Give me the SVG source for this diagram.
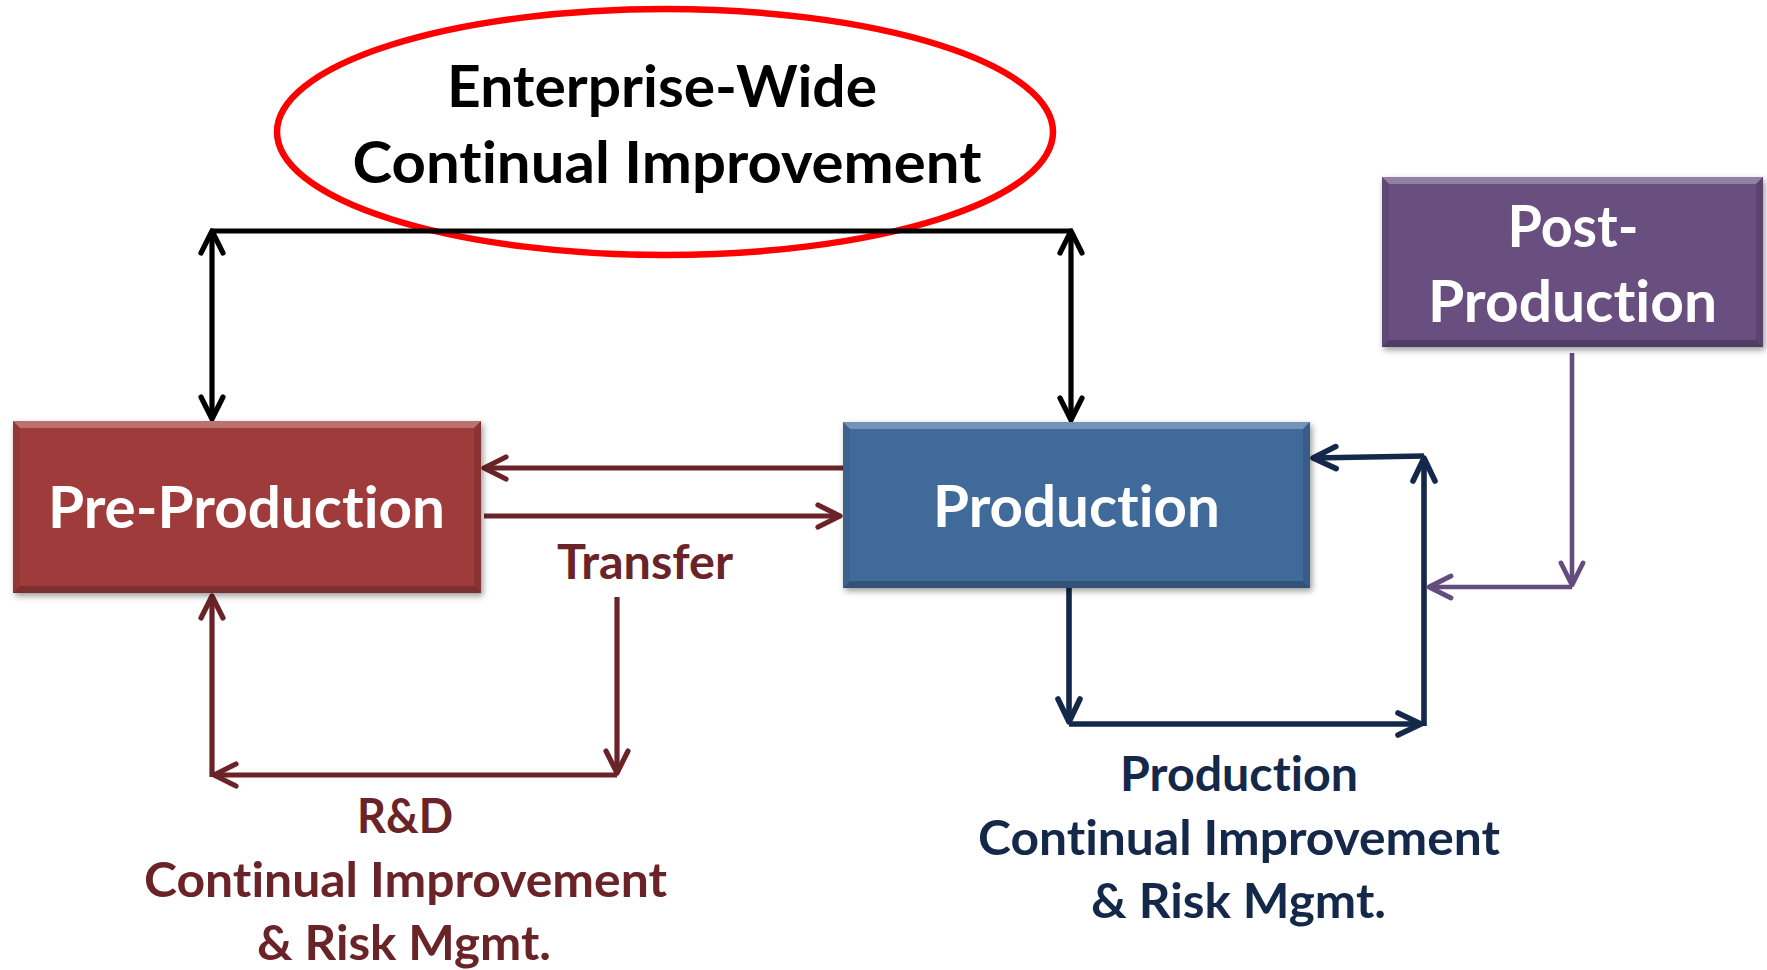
<svg xmlns="http://www.w3.org/2000/svg" width="1767" height="970" viewBox="0 0 1767 970">
<style>
text{font-family:Lato,"Open Sans","Liberation Sans",sans-serif;font-weight:700;text-anchor:middle;font-variant-ligatures:none;font-feature-settings:"liga" 0,"clig" 0}
.big{font-size:58px}
.lbl{font-size:47px}
.w{fill:#ffffff}
.k{fill:#000000}
.rd{fill:#6A2326}
.nv{fill:#14284A}
.ln{fill:none;stroke-width:5.2;stroke-linecap:butt}
.bk{stroke:#000000}
.dr{stroke:#6A2326}
.nb{stroke:#14284A;stroke-width:5.6}
.pu{stroke:#654C7E;stroke-width:4.6}
.hi{fill:#ffffff;fill-opacity:.28}
.lo{fill:#000000;fill-opacity:.22}
.sd{fill:#000000;fill-opacity:.08}
.sd2{fill:#000000;fill-opacity:.13}
</style>
<defs>
<filter id="sh" x="-10%" y="-10%" width="125%" height="130%">
<feDropShadow dx="2" dy="3" stdDeviation="3" flood-color="#000" flood-opacity="0.4"/>
</filter>
<marker id="mk" markerUnits="userSpaceOnUse" markerWidth="40" markerHeight="40" refX="0" refY="0" viewBox="-30 -20 40 40" orient="auto-start-reverse" overflow="visible">
<path d="M-22,-11 L0,0 L-22,11" fill="none" stroke="#000000" stroke-width="5.2" stroke-linecap="round" stroke-linejoin="round"/>
</marker>
<marker id="mr" markerUnits="userSpaceOnUse" markerWidth="40" markerHeight="40" refX="0" refY="0" viewBox="-30 -20 40 40" orient="auto-start-reverse" overflow="visible">
<path d="M-22,-11 L0,0 L-22,11" fill="none" stroke="#6A2326" stroke-width="5.2" stroke-linecap="round" stroke-linejoin="round"/>
</marker>
<marker id="mn" markerUnits="userSpaceOnUse" markerWidth="40" markerHeight="40" refX="0" refY="0" viewBox="-30 -20 40 40" orient="auto-start-reverse" overflow="visible">
<path d="M-23,-11 L0,0 L-23,11" fill="none" stroke="#14284A" stroke-width="5.6" stroke-linecap="round" stroke-linejoin="round"/>
</marker>
<marker id="mp" markerUnits="userSpaceOnUse" markerWidth="40" markerHeight="40" refX="0" refY="0" viewBox="-30 -20 40 40" orient="auto-start-reverse" overflow="visible">
<path d="M-22,-11 L0,0 L-22,11" fill="none" stroke="#654C7E" stroke-width="4.8" stroke-linecap="round" stroke-linejoin="round"/>
</marker>
</defs>
<rect x="0" y="0" width="1767" height="970" fill="#ffffff"/>

<g id="enterprise">
<ellipse cx="665" cy="132" rx="388" ry="123" fill="none" stroke="#FF0000" stroke-width="6.5"/>
<text class="big k" x="662" y="107" textLength="430" lengthAdjust="spacingAndGlyphs">Enterprise-Wide</text>
<text class="big k" x="667" y="183" textLength="629" lengthAdjust="spacingAndGlyphs">Continual Improvement</text>
</g>

<g id="connectors">
<line class="ln bk" x1="210" y1="231" x2="1073" y2="231"/>
<line class="ln bk" x1="212" y1="231" x2="212" y2="419" marker-start="url(#mk)" marker-end="url(#mk)"/>
<line class="ln bk" x1="1071" y1="231" x2="1071" y2="420" marker-start="url(#mk)" marker-end="url(#mk)"/>
<line class="ln dr" x1="843" y1="468" x2="484" y2="468" marker-end="url(#mr)"/>
<line class="ln dr" x1="484" y1="516" x2="840" y2="516" marker-end="url(#mr)"/>
<line class="ln dr" x1="617" y1="597" x2="617" y2="773" marker-end="url(#mr)"/>
<line class="ln dr" x1="617" y1="775" x2="214" y2="775" marker-end="url(#mr)"/>
<line class="ln dr" x1="212" y1="777" x2="212" y2="596" marker-end="url(#mr)"/>
<line class="ln nb" x1="1069" y1="588" x2="1069" y2="722" marker-end="url(#mn)"/>
<line class="ln nb" x1="1069" y1="724" x2="1421" y2="724" marker-end="url(#mn)"/>
<line class="ln nb" x1="1424" y1="726" x2="1424" y2="458" marker-end="url(#mn)"/>
<line class="ln nb" x1="1424" y1="456" x2="1313" y2="458" marker-end="url(#mn)"/>
<line class="ln pu" x1="1572" y1="353" x2="1572" y2="585" marker-end="url(#mp)"/>
<line class="ln pu" x1="1572" y1="587" x2="1429" y2="587" marker-end="url(#mp)"/>
</g>

<g id="pre-production">
<rect x="13" y="421" width="468" height="172" fill="#A03B3A" filter="url(#sh)"/>
<polygon class="hi" points="13,421 481,421 474,428 20,428"/>
<polygon class="lo" points="13,593 481,593 474,586 20,586"/>
<polygon class="sd" points="13,421 20,428 20,586 13,593"/>
<polygon class="sd2" points="481,421 474,428 474,586 481,593"/>
<text class="big w" x="246.5" y="528" textLength="397" lengthAdjust="spacingAndGlyphs">Pre-Production</text>
</g>

<g id="production">
<rect x="843" y="422" width="467" height="166" fill="#3F6A9A" filter="url(#sh)"/>
<polygon class="hi" points="843,422 1310,422 1303,429 850,429"/>
<polygon class="lo" points="843,588 1310,588 1303,581 850,581"/>
<polygon class="sd" points="843,422 850,429 850,581 843,588"/>
<polygon class="sd2" points="1310,422 1303,429 1303,581 1310,588"/>
<text class="big w" x="1076.5" y="527" textLength="287" lengthAdjust="spacingAndGlyphs">Production</text>
</g>

<g id="post-production">
<rect x="1382" y="177" width="381" height="170" fill="#67507F" filter="url(#sh)"/>
<polygon class="hi" points="1382,177 1763,177 1756,184 1389,184"/>
<polygon class="lo" points="1382,347 1763,347 1756,340 1389,340"/>
<polygon class="sd" points="1382,177 1389,184 1389,340 1382,347"/>
<polygon class="sd2" points="1763,177 1756,184 1756,340 1763,347"/>
<text class="big w" x="1573" y="247" textLength="131" lengthAdjust="spacingAndGlyphs">Post-</text>
<text class="big w" x="1572.5" y="322" textLength="289" lengthAdjust="spacingAndGlyphs">Production</text>
</g>

<g id="transfer-label">
<text class="lbl rd" x="645" y="579" textLength="176" lengthAdjust="spacingAndGlyphs">Transfer</text>
</g>

<g id="rd-label">
<text class="lbl rd" x="405" y="833" textLength="96" lengthAdjust="spacingAndGlyphs">R&amp;D</text>
<text class="lbl rd" x="405.5" y="897" textLength="523" lengthAdjust="spacingAndGlyphs">Continual Improvement</text>
<text class="lbl rd" x="404" y="960" textLength="294" lengthAdjust="spacingAndGlyphs">&amp; Risk Mgmt.</text>
</g>

<g id="production-label">
<text class="lbl nv" x="1239" y="791" textLength="238" lengthAdjust="spacingAndGlyphs">Production</text>
<text class="lbl nv" x="1239" y="855" textLength="522" lengthAdjust="spacingAndGlyphs">Continual Improvement</text>
<text class="lbl nv" x="1238.5" y="918" textLength="295" lengthAdjust="spacingAndGlyphs">&amp; Risk Mgmt.</text>
</g>
</svg>
